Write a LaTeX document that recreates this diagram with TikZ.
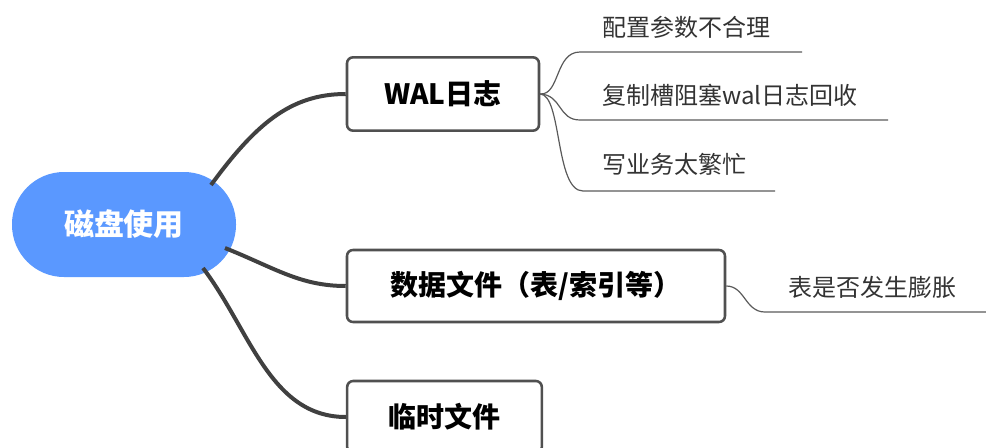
\documentclass[tikz,border=0pt]{standalone}
\usepackage{fontspec}
\setmainfont{Noto Sans CJK SC}
\usepackage{tikz}
\definecolor{rootblue}{RGB}{90,152,255}
\definecolor{edgegray}{RGB}{64,64,64}
\definecolor{boxgray}{RGB}{80,80,80}
\definecolor{leafgray}{RGB}{90,90,90}

\begin{document}
\begin{tikzpicture}[x=0.75pt,y=-0.75pt,
  rootnode/.style={fill=rootblue,text=white,rounded corners=39pt,minimum width=168pt,minimum height=78.75pt,inner sep=0pt,font=\fontsize{22.5}{26}\selectfont\bfseries},
  topicbox/.style={draw=boxgray,line width=1.9pt,fill=white,rounded corners=4.5pt,minimum height=55pt,inner sep=0pt,font=\fontsize{21}{24}\selectfont\bfseries},
  leaftext/.style={anchor=west,inner sep=0pt,text=black!80,font=\fontsize{18}{21}\selectfont},
  mainedge/.style={draw=edgegray,line width=3pt},
  leafedge/.style={draw=leafgray,line width=0.9pt}]
\useasboundingbox (0,0) rectangle (986,447);
\node[rootnode] (root) at (124,224.5) {磁盘使用};
\node[topicbox,minimum width=144pt] (wal) at (443,94) {WAL日志};
\node[topicbox,minimum width=283.5pt,minimum height=54pt] (data) at (536,286) {数据文件（表/索引等）};
\node[topicbox,minimum width=146pt,minimum height=54pt] (temp) at (444.5,417) {临时文件};
\node[leaftext] (cfg) at (602,27) {配置参数不合理};
\node[leaftext] (slot) at (602,95) {复制槽阻塞wal日志回收};
\node[leaftext] (busy) at (602,164) {写业务太繁忙};
\node[leaftext] (bloat) at (788,287) {表是否发生膨胀};
% root to topics
\coordinate (r1) at (211,185);
\coordinate (r2) at (225,248);
\coordinate (r3) at (203,268);
\draw[mainedge] (r1) .. controls (255,125) and (290,94) .. (wal.west);
\draw[mainedge] (r2) .. controls (275,268) and (300,286) .. (data.west);
\draw[mainedge] (r3) .. controls (250,330) and (270,417) .. (temp.west);
% leaf underlines
\coordinate (u1) at (580,52);   \coordinate (v1) at (802,52);
\coordinate (u2) at (580,120);  \coordinate (v2) at (888,120);
\coordinate (u3) at (583,191);  \coordinate (v3) at (775,191);
\coordinate (u4) at (765,312);  \coordinate (v4) at (986,312);
\draw[leafedge] (wal.east) .. controls (560,95) and (555,52) .. (u1) -- (v1);
\draw[leafedge] (wal.east) .. controls (562,95) and (558,120) .. (u2) -- (v2);
\draw[leafedge] (wal.east) .. controls (562,95) and (555,191) .. (u3) -- (v3);
\draw[leafedge] (data.east) .. controls (745,286) and (745,312) .. (u4) -- (v4);
\end{tikzpicture}
\end{document}
